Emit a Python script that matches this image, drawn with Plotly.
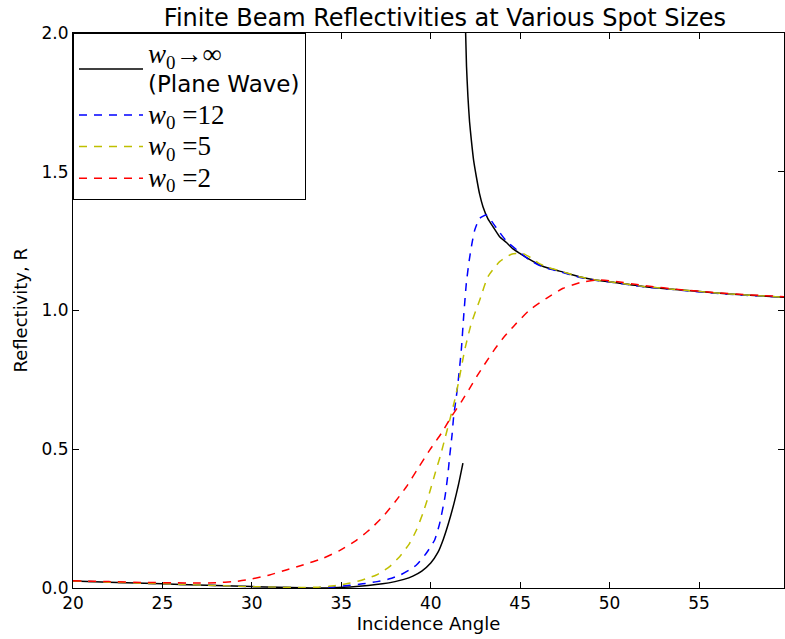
import plotly.graph_objects as go

# ---- data ----
black_lo_x = [20, 22, 24, 26, 28, 30, 31.5, 32.8, 33.7, 34.6, 35.5, 36.5, 37.3, 38.0, 38.5, 39.0,
              39.5, 40.0, 40.4, 40.7, 41.0, 41.3, 41.55, 41.8]
black_lo_r = [0.025, 0.021, 0.017, 0.013, 0.009, 0.005, 0.003, 0.001, 0.0, 0.001, 0.004, 0.009, 0.015,
              0.023, 0.031, 0.043, 0.061, 0.09, 0.128, 0.175, 0.235, 0.305, 0.372, 0.45]
black_hi_x = [41.93, 42.0, 42.08, 42.17, 42.27, 42.4, 42.55, 42.73, 42.92, 43.2, 43.5, 43.85, 44.23,
              44.6, 45.0, 45.5, 46.1, 46.6, 47.2, 48.3, 49.2, 50.2, 52.0, 54.0, 55.8, 57.6, 59.75]
black_hi_r = [2.05, 1.88, 1.77, 1.68, 1.614, 1.54, 1.482, 1.42, 1.374, 1.33, 1.30, 1.266, 1.245,
              1.222, 1.205, 1.185, 1.164, 1.152, 1.142, 1.122, 1.11, 1.102, 1.086, 1.074, 1.064, 1.056, 1.048]

blue_x = [20, 22, 24, 26, 28, 30, 31.5, 32.8, 33.7, 34.6, 35.5, 36.2, 37.0, 37.7, 38.3, 38.8, 39.2,
          39.75, 40.22, 40.5, 40.8, 40.96, 41.06, 41.19, 41.28, 41.43, 41.52, 41.71, 41.84, 41.99,
          42.15, 42.3, 42.46, 42.73, 43.1, 43.4, 43.7, 44.23, 44.88, 45.5, 46.1, 46.6, 47.2, 48.3,
          49.2, 50.2, 52.0, 54.0, 55.8, 57.6, 59.75]
blue_r = [0.025, 0.021, 0.017, 0.013, 0.009, 0.005, 0.003, 0.001, 0.001, 0.004, 0.010, 0.015, 0.023,
          0.033, 0.047, 0.065, 0.083, 0.125, 0.173, 0.233, 0.33, 0.41, 0.475, 0.551, 0.617, 0.689,
          0.737, 0.858, 0.978, 1.098, 1.18, 1.24, 1.29, 1.332, 1.344, 1.322, 1.295, 1.25, 1.215,
          1.183, 1.162, 1.15, 1.14, 1.12, 1.109, 1.101, 1.085, 1.073, 1.063, 1.055, 1.048]

yel_x = [20, 22, 24, 26, 28, 30, 31.5, 32.8, 33.7, 34.3, 34.9, 35.5, 36.02, 36.5, 36.96, 37.3, 37.7,
         38.26, 38.82, 39.2, 39.56, 39.94, 40.27, 40.55, 40.82, 41.11, 41.34, 41.56, 41.9, 42.27,
         42.74, 43.2, 43.85, 44.51, 45.16, 45.6, 46.1, 46.6, 47.2, 48.3, 49.2, 50.2, 52.0, 54.0,
         55.8, 57.6, 59.75]
yel_r = [0.025, 0.021, 0.017, 0.013, 0.009, 0.005, 0.003, 0.002, 0.003, 0.006, 0.011, 0.018, 0.026,
         0.036, 0.047, 0.06, 0.077, 0.113, 0.161, 0.209, 0.269, 0.345, 0.419, 0.479, 0.545, 0.617,
         0.677, 0.743, 0.858, 0.954, 1.038, 1.122, 1.176, 1.203, 1.205, 1.19, 1.168, 1.155, 1.143,
         1.122, 1.11, 1.102, 1.086, 1.074, 1.064, 1.056, 1.048]

red_x = [20, 22, 24, 25.5, 27, 28, 29, 29.87, 30.99, 31.92, 32.85, 33.97, 34.9, 35.84, 36.58, 37.3,
         38.0, 38.64, 39.28, 39.94, 40.59, 41.15, 41.71, 42.2, 42.6, 43.0, 43.57, 44.04, 44.7,
         45.53, 46.47, 47.4, 48.33, 49.26, 50.2, 52.0, 54.0, 55.8, 57.6, 59.75]
red_r = [0.026, 0.023, 0.02, 0.019, 0.018, 0.019, 0.023, 0.031, 0.047, 0.065, 0.083, 0.107, 0.135,
         0.172, 0.21, 0.255, 0.31, 0.365, 0.43, 0.497, 0.557, 0.617, 0.671, 0.722, 0.765, 0.805,
         0.86, 0.9, 0.948, 1.002, 1.044, 1.08, 1.1, 1.11, 1.106, 1.089, 1.075, 1.065, 1.057, 1.05]

x_ticks = [20, 25, 30, 35, 40, 45, 50, 55]
y_ticks = [0.0, 0.5, 1.0, 1.5, 2.0]

MATH = "font-family:'Liberation Serif';font-size:27px"
def w0(rest):
    return f"<span style=\"{MATH}\"><i>w</i><sub>0</sub>{rest}</span>"

labels = [
    w0("→∞") + "<br><span style=\"font-size:23px\">(Plane Wave)</span>",
    w0(" =12"),
    w0(" =5"),
    w0(" =2"),
]

fig = go.Figure()
fig.add_trace(go.Scatter(
    x=black_lo_x + [None] + black_hi_x,
    y=black_lo_r + [None] + black_hi_r,
    mode="lines", line=dict(color="#000000", width=1.5, shape="spline", smoothing=0.5),
    name=labels[0]))
fig.add_trace(go.Scatter(x=blue_x, y=blue_r, mode="lines", name=labels[1],
    line=dict(color="#0000ff", width=1.5, dash="8px,7px", shape="spline", smoothing=0.5)))
fig.add_trace(go.Scatter(x=yel_x, y=yel_r, mode="lines", name=labels[2],
    line=dict(color="#bfbf00", width=1.5, dash="8px,7px", shape="spline", smoothing=0.5)))
fig.add_trace(go.Scatter(x=red_x, y=red_r, mode="lines", name=labels[3],
    line=dict(color="#ff0000", width=1.5, dash="8px,7px", shape="spline", smoothing=0.5)))

axis_common = dict(
    showline=True, linecolor="black", linewidth=1, mirror="allticks",
    ticks="inside", ticklen=6, tickcolor="black", tickwidth=1,
    showgrid=False, zeroline=False, automargin=False,
    tickfont=dict(family="DejaVu Sans", size=17, color="black"),
)

fig.update_layout(
    width=785, height=639,
    margin=dict(l=73, r=1, t=33, b=51),
    paper_bgcolor="white", plot_bgcolor="white",
    font=dict(family="DejaVu Sans", color="black"),
    title=dict(text="Finite Beam Reflectivities at Various Spot Sizes",
               font=dict(size=24, family="DejaVu Sans", color="black"),
               x=445/785, xref="container", xanchor="center",
               y=1-18/639, yref="container", yanchor="middle"),
    xaxis=dict(range=[20, 59.75], tickvals=x_ticks, ticktext=[str(v) for v in x_ticks],
               title=dict(text="Incidence Angle", font=dict(size=18), standoff=4), **axis_common),
    yaxis=dict(range=[0, 2], tickvals=y_ticks, ticktext=[f"{v:.1f}" for v in y_ticks],
               **axis_common),
    legend=dict(x=0, y=1, xanchor="left", yanchor="top", bgcolor="white",
                bordercolor="black", borderwidth=1,
                font=dict(family="DejaVu Sans", size=22, color="black"),
                itemwidth=64, tracegroupgap=0),
    showlegend=True,
)
fig.add_annotation(text="Reflectivity, R", textangle=-90, showarrow=False,
                   xref="paper", yref="paper", x=(20 - 73) / 711, y=0.5,
                   xanchor="center", yanchor="middle",
                   font=dict(size=18, family="DejaVu Sans", color="black"))

fig.write_html("out.html", config={"displayModeBar": False},
               post_script="document.body.style.margin='0';document.body.style.overflow='hidden';")
